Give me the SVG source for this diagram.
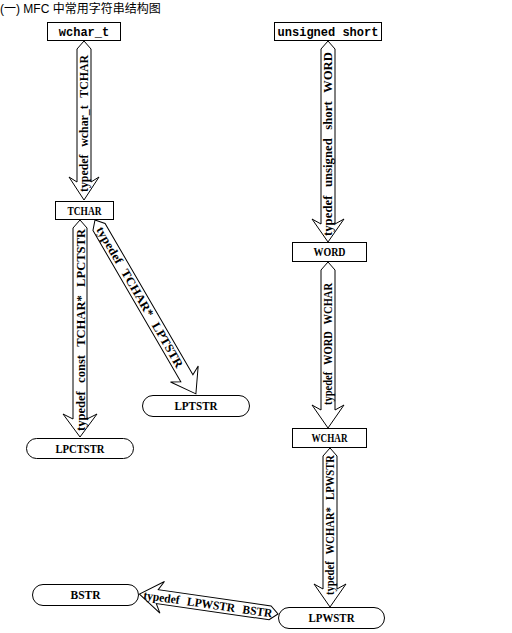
<svg xmlns="http://www.w3.org/2000/svg" width="512" height="633" viewBox="0 0 512 633">
<style>
.box{fill:#fff;stroke:#000;stroke-width:1}
.arr{fill:#fff;stroke:#000;stroke-width:1;stroke-linejoin:miter}
.t{font-family:"Liberation Serif","Noto Sans CJK SC",serif;font-weight:bold;font-size:12px;text-anchor:middle;fill:#000}
.a{word-spacing:5px}
.m{font-family:"Liberation Mono",monospace;font-weight:bold;font-size:12px;text-anchor:middle;fill:#000}
.title{font-family:"Liberation Sans","Noto Sans CJK SC",sans-serif;font-size:12px;fill:#000}
</style>
<rect width="512" height="633" fill="#fff"/>
<text class="title" x="0" y="13">(一) MFC 中常用字符串结构图</text>
<g id="connectors">
<g id="a1"><polygon class="arr" transform="translate(84,41) rotate(90)" points="0,0 8,-7 141,-7 136,-15 159,0 136,15 141,7 8,7"/>
<text class="t a" transform="translate(84,123.5) rotate(-90)" dy=".35em" textLength="137" lengthAdjust="spacingAndGlyphs">typedef wchar_t TCHAR</text></g>
<g id="a2"><polygon class="arr" transform="translate(80,220) rotate(90)" points="0,0 8,-7 199,-7 194,-17 217,0 194,17 199,7 8,7"/>
<text class="t a" transform="translate(81,330) rotate(-90)" dy=".35em" textLength="202" lengthAdjust="spacingAndGlyphs">typedef const TCHAR* LPCTSTR</text></g>
<g id="a3"><polygon class="arr" transform="translate(95,220) rotate(59.87)" points="0,0 8,-7 183,-7 178,-16 201,0 178,16 183,7 8,7"/>
<text class="t a" transform="translate(140,297) rotate(59.87)" dy=".35em" textLength="161" lengthAdjust="spacingAndGlyphs">typedef TCHAR* LPTSTR</text></g>
<g id="a4"><polygon class="arr" transform="translate(328,41) rotate(90)" points="0,0 8,-7 183,-7 178,-16 201,0 178,16 183,7 8,7"/>
<text class="t a" transform="translate(328,144) rotate(-90)" dy=".35em" textLength="184" lengthAdjust="spacingAndGlyphs">typedef unsigned short WORD</text></g>
<g id="a5"><polygon class="arr" transform="translate(328,262) rotate(90)" points="0,0 8,-7 148,-7 143,-16 166,0 143,16 148,7 8,7"/>
<text class="t a" transform="translate(328,344) rotate(-90)" dy=".35em" textLength="122" lengthAdjust="spacingAndGlyphs">typedef WORD WCHAR</text></g>
<g id="a6"><polygon class="arr" transform="translate(330,448) rotate(90)" points="0,0 8,-7 141,-7 136,-16 159,0 136,16 141,7 8,7"/>
<text class="t a" transform="translate(330,525) rotate(-90)" dy=".35em" textLength="140" lengthAdjust="spacingAndGlyphs">typedef WCHAR* LPWSTR</text></g>
<g id="a7"><polygon class="arr" transform="translate(278,614) rotate(188.19)" points="0,0 8,-7 122,-7 117,-16 140,0 117,16 122,7 8,7"/>
<text class="t a" transform="translate(208,604) rotate(8.19)" dy=".35em" textLength="130" lengthAdjust="spacingAndGlyphs">typedef LPWSTR BSTR</text></g>
</g>
<g id="wchar_t"><rect class="box" x="47.5" y="22.5" width="73" height="18"/><text class="m" x="84" y="31.5" dy=".35em">wchar_t</text></g>
<g id="unsigned_short"><rect class="box" x="274.5" y="22.5" width="107" height="18"/><text class="m" x="328" y="31.5" dy=".35em">unsigned short</text></g>
<g id="TCHAR"><rect class="box" x="55.5" y="201.5" width="58" height="18"/><text class="t" x="84.5" y="210.5" dy=".35em" textLength="34" lengthAdjust="spacingAndGlyphs">TCHAR</text></g>
<g id="LPTSTR"><rect class="box" x="142.5" y="395.5" width="107" height="21" rx="10.5"/><text class="t" x="196" y="406" dy=".35em" textLength="43" lengthAdjust="spacingAndGlyphs">LPTSTR</text></g>
<g id="LPCTSTR"><rect class="box" x="26.5" y="438.5" width="107" height="20" rx="10"/><text class="t" x="80" y="448.5" dy=".35em" textLength="49" lengthAdjust="spacingAndGlyphs">LPCTSTR</text></g>
<g id="WORD"><rect class="box" x="292.5" y="242.5" width="74" height="19"/><text class="t" x="329.5" y="252" dy=".35em" textLength="32" lengthAdjust="spacingAndGlyphs">WORD</text></g>
<g id="WCHAR"><rect class="box" x="292.5" y="428.5" width="74" height="19"/><text class="t" x="329.5" y="438" dy=".35em" textLength="36" lengthAdjust="spacingAndGlyphs">WCHAR</text></g>
<g id="LPWSTR"><rect class="box" x="278.5" y="607.5" width="106" height="21" rx="10.5"/><text class="t" x="331.5" y="618" dy=".35em" textLength="46" lengthAdjust="spacingAndGlyphs">LPWSTR</text></g>
<g id="BSTR"><rect class="box" x="32.5" y="584.5" width="106" height="21" rx="10.5"/><text class="t" x="85.5" y="595" dy=".35em" textLength="30" lengthAdjust="spacingAndGlyphs">BSTR</text></g>
</svg>
